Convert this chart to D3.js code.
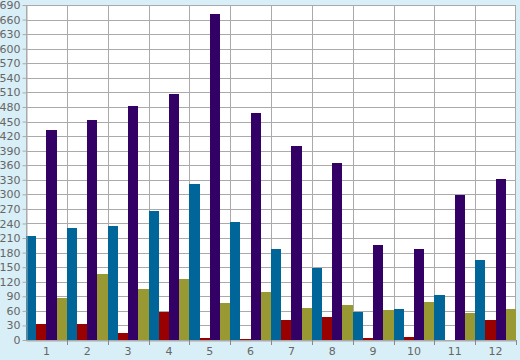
<!DOCTYPE html>
<html><head><meta charset="utf-8">
<script src="https://cdn.jsdelivr.net/npm/d3@7/dist/d3.min.js"></script>
<style>
html,body{margin:0;padding:0;background:#d9eff7;}
svg{display:block;}
text{font-family:"DejaVu Sans",sans-serif;font-size:11px;fill:#666;}
</style></head><body>
<svg id="c" width="520" height="360"></svg>
<script>
const categories = ["1","2","3","4","5","6","7","8","9","10","11","12"];
const seriesNames = ["s1","s2","s3","s4"];
const blueValues   = [214, 231, 235, 266, 321, 243, 187, 148, 58, 64, 93, 165];
const redValues    = [33, 33, 14, 57, 4, 2, 41, 47, 4, 6, 1, 41];
const purpleValues = [432, 453, 483, 506, 671, 467, 400, 364, 196, 187, 299, 332];
const oliveValues  = [86, 136, 105, 125, 76, 99, 66, 72, 62, 78, 56, 64];
const yTicks = d3.range(0, 691, 30);
const colors = ["#006699", "#990000", "#330066", "#999933"];
const series = [blueValues, redValues, purpleValues, oliveValues];

const svg = d3.select("#c");
const L = 26, R = 516, T = 5, B = 340;

const x = d3.scaleBand().domain(categories).range([L, R]).padding(0);
const xs = d3.scaleBand().domain(d3.range(series.length)).range([0, x.bandwidth()]).padding(0);
const y = d3.scaleLinear().domain([0, 690]).range([B, T]);

svg.append("rect").attr("x", L).attr("y", T).attr("width", R - L).attr("height", B - T).attr("fill", "#fff");

// grid
const g = svg.append("g").attr("stroke", "#aaa").attr("stroke-width", 1);
yTicks.forEach(t => g.append("line").attr("x1", L).attr("x2", R).attr("y1", Math.round(y(t)) + 0.5).attr("y2", Math.round(y(t)) + 0.5));
categories.forEach((c, i) => {
  const xx = Math.round(x(c)) + 0.5;
  g.append("line").attr("x1", xx).attr("x2", xx).attr("y1", T).attr("y2", B);
});
g.append("line").attr("x1", R - 0.5).attr("x2", R - 0.5).attr("y1", T).attr("y2", B);

// bars
categories.forEach((c, i) => {
  series.forEach((s, j) => {
    const x0 = Math.round(x(c) + xs(j));
    const x1 = Math.round(x(c) + xs(j) + xs.bandwidth());
    const yt = Math.round(y(s[i]));
    svg.append("rect").attr("x", x0).attr("y", yt).attr("width", x1 - x0).attr("height", B - yt).attr("fill", colors[j]);
  });
});

// y axis
const ya = svg.append("g").attr("transform", `translate(${L + 0.5},0)`).call(d3.axisLeft(y).tickValues(yTicks).tickSize(4).tickPadding(2).tickSizeOuter(0));
ya.selectAll("line").attr("stroke", "#aaa");
ya.select(".domain").attr("stroke", "#aaa");
ya.selectAll("text").attr("font-size", 11).attr("font-family", "DejaVu Sans").attr("fill", "#666");

// x axis
const xa = svg.append("g").attr("transform", `translate(0,${B + 0.5})`).call(d3.axisBottom(x).tickSize(0).tickPadding(7).tickSizeOuter(0));
xa.select(".domain").attr("stroke", "#aaa");
xa.selectAll("text").attr("font-size", 11).attr("font-family", "DejaVu Sans").attr("fill", "#666");
const bt = svg.append("g").attr("stroke", "#888");
categories.forEach(c => {
  const xx = Math.round(x(c) + x.bandwidth()) + 0.5;
  bt.append("line").attr("x1", xx).attr("x2", xx).attr("y1", B).attr("y2", B + 5);
});
</script></body></html>
